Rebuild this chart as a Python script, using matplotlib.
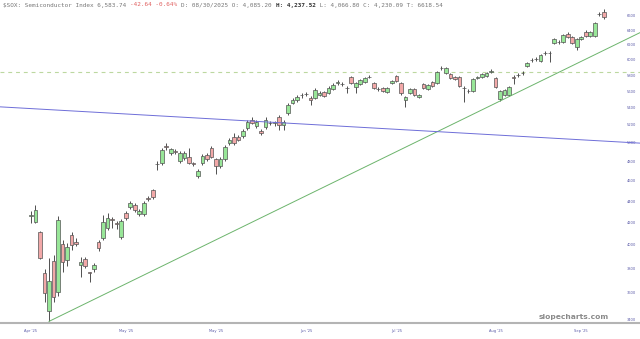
import numpy as np
import matplotlib.pyplot as plt

# daily OHLC, bar 0 = first candle on the left
opens = [4264, 4209, 4118, 3757, 3458, 3865, 3604, 4011, 3873, 4091,
         4029, 3831, 3882, 3765, 3790, 4029, 4064, 4154, 4236, 4199,
         4073, 4292, 4349, 4368, 4283, 4283, 4435, 4513, 4777, 4788,
         4968, 4893, 4914, 4809, 4840, 4851, 4788, 4654, 4788, 4872,
         4947, 4830, 4757, 4830, 5001, 5067, 5067, 5078, 5168, 5259,
         5191, 5134, 5179, 5225, 5225, 5294, 5202, 5340, 5457, 5493,
         5554, 5566, 5518, 5518, 5554, 5591, 5578, 5627, 5702, 5689,
         5640, 5777, 5652, 5689, 5714, 5777, 5702, 5627, 5640, 5591,
         5702, 5789, 5702, 5493, 5578, 5627, 5530, 5689, 5627, 5714,
         5702, 5891, 5827, 5815, 5777, 5777, 5640, 5603, 5603, 5764,
         5777, 5789, 5840, 5764, 5505, 5554, 5554, 5777, 5802, 5827,
         5917, 5995, 6008, 5982, 6087, 6087, 6222, 6235, 6235, 6346,
         6304, 6168, 6276, 6373, 6318, 6318, 6629, 6659]
highs = [4311, 4368, 4127, 3790, 3890, 3916, 4264, 4046, 4020, 4118,
         4064, 3899, 3899, 3773, 3848, 4046, 4273, 4292, 4255, 4218,
         4236, 4311, 4406, 4387, 4330, 4406, 4454, 4523, 4809, 4947,
         5001, 4947, 4936, 4914, 4914, 4947, 4798, 4725, 4883, 4893,
         4968, 4840, 4851, 4979, 5056, 5112, 5089, 5156, 5259, 5294,
         5259, 5156, 5294, 5248, 5248, 5317, 5259, 5457, 5518, 5554,
         5578, 5591, 5542, 5640, 5603, 5603, 5665, 5702, 5739, 5714,
         5665, 5789, 5714, 5752, 5777, 5802, 5714, 5652, 5652, 5652,
         5739, 5802, 5714, 5542, 5640, 5640, 5566, 5702, 5689, 5727,
         5852, 5917, 5904, 5827, 5789, 5789, 5665, 5627, 5764, 5789,
         5827, 5840, 5878, 5777, 5615, 5627, 5665, 5802, 5827, 5852,
         5969, 6021, 6035, 6074, 6114, 6114, 6290, 6262, 6346, 6373,
         6318, 6290, 6318, 6401, 6387, 6514, 6659, 6703]
lows = [4199, 4199, 3882, 3526, 3383, 3526, 3573, 3773, 3823, 3959,
        3994, 3732, 3806, 3684, 3773, 3950, 4046, 4136, 4154, 4145,
        4055, 4227, 4330, 4301, 4264, 4264, 4406, 4426, 4715, 4767,
        4925, 4872, 4883, 4788, 4819, 4777, 4757, 4633, 4767, 4809,
        4840, 4674, 4736, 4809, 4979, 4979, 5023, 5056, 5145, 5213,
        5168, 5089, 5156, 5202, 5191, 5145, 5145, 5317, 5446, 5469,
        5518, 5542, 5434, 5505, 5542, 5530, 5566, 5615, 5677, 5665,
        5578, 5689, 5578, 5677, 5702, 5764, 5627, 5603, 5591, 5578,
        5689, 5714, 5554, 5410, 5566, 5542, 5518, 5627, 5615, 5652,
        5689, 5865, 5815, 5752, 5739, 5652, 5469, 5578, 5591, 5752,
        5764, 5777, 5827, 5640, 5481, 5542, 5542, 5689, 5777, 5802,
        5904, 5969, 5982, 5969, 6061, 5969, 6208, 6208, 6222, 6290,
        6208, 6127, 6262, 6304, 6304, 6304, 6600, 6557]
closes = [4273, 4320, 3890, 3596, 3692, 3565, 4227, 3856, 3985, 4002,
          4011, 3856, 3823, 3757, 3831, 3976, 4209, 4245, 4227, 4190,
          4218, 4245, 4387, 4320, 4311, 4387, 4426, 4445, 4772, 4925,
          4957, 4936, 4904, 4893, 4893, 4788, 4777, 4705, 4861, 4830,
          4851, 4757, 4830, 4957, 5034, 5001, 5034, 5134, 5236, 5225,
          5236, 5112, 5259, 5222, 5228, 5202, 5236, 5434, 5493, 5530,
          5550, 5570, 5493, 5615, 5578, 5542, 5640, 5677, 5706, 5686,
          5636, 5702, 5702, 5739, 5764, 5780, 5640, 5624, 5603, 5640,
          5727, 5727, 5578, 5530, 5627, 5554, 5554, 5640, 5677, 5665,
          5840, 5895, 5891, 5764, 5752, 5665, 5636, 5600, 5752, 5777,
          5815, 5827, 5852, 5652, 5603, 5615, 5652, 5764, 5806, 5830,
          5956, 5998, 6004, 6061, 6091, 6083, 6276, 6239, 6332, 6304,
          6222, 6276, 6304, 6318, 6373, 6500, 6625, 6586]

y_ticks = [3400, 3600, 3800, 4000, 4200, 4400, 4600, 4800, 5000,
           5200, 5400, 5600, 5800, 6000, 6200, 6400, 6600]
x_tick_bars = [0, 21, 41, 61, 81, 103, 122]
x_tick_labels = ["Apr '25", "May '25", "May '25", "Jun '25", "Jul '25", "Aug '25", "Sep '25"]

# drawn lines (bar index, price)
support_bars = [4, 135.03]
support_vals = [3383, 6364]
channel_bars = [-6.87, 135.03]
channel_vals = [5410, 4997]
resist_level = 5840

header = [("$SOX: Semiconductor Index 6,583.74 ", '#777777', 'normal'),
          ("-42.64 -0.64% ", '#e06060', 'normal'),
          ("D: 08/30/2025 O: 4,085.20 ", '#777777', 'normal'),
          ("H: 4,237.52", '#333333', 'bold'),
          (" L: 4,066.80 C: 4,230.09 T: 6618.54", '#777777', 'normal')]

fig = plt.figure(figsize=(6.4, 3.39), dpi=100)
ax = fig.add_axes([0, 16 / 339, 1, 323 / 339])

idx = np.arange(len(opens))
o = np.array(opens, float)
c = np.array(closes, float)
up = c >= o
bottom = np.minimum(o, c)
height = np.maximum(np.abs(c - o), 2)

ax.vlines(idx, lows, highs, color='#333333', lw=0.6, zorder=2)
ax.bar(idx, height, bottom=bottom, width=0.8,
       color=np.where(up, '#98e698', '#f2a8a8'),
       edgecolor='#555555', linewidth=0.5, zorder=3)

ax.plot(support_bars, support_vals, color='#6cb46c', lw=0.7, zorder=4)
ax.plot(channel_bars, channel_vals, color='#6e6ed8', lw=0.7, zorder=4)
ax.axhline(resist_level, color='#bcd8a0', lw=0.8, ls=(0, (3.5, 3.5)), zorder=1)

ax.set_yscale('log')
ax.set_ylim(3371, 6835)
ax.set_xlim(-6.87, 135.03)
ax.yaxis.set_minor_locator(plt.NullLocator())
ax.set_yticks(y_ticks, [str(v) for v in y_ticks])
ax.yaxis.tick_right()
ax.set_xticks(x_tick_bars, x_tick_labels)
ax.tick_params(axis='y', length=0, pad=-9.5, labelsize=2.6, labelcolor='#5a5aa8')
ax.tick_params(axis='x', length=0, pad=4.6, labelsize=2.6, labelcolor='#5a5aa8')
for lab in ax.get_yticklabels():
    lab.set_horizontalalignment('left')

for s in ['top', 'left', 'right']:
    ax.spines[s].set_visible(False)
ax.spines['bottom'].set_color('#b4b4b4')
ax.spines['bottom'].set_linewidth(1.5)

# header line, monospace so each piece starts where the last one ends
cw = 3.64
pos = 0
for txt, col, wt in header:
    fig.text((3 + pos * cw) / 640, 1 - 5 / 339, txt, family='DejaVu Sans Mono',
             fontsize=4.35, color=col, fontweight=wt, va='center', ha='left')
    pos += len(txt)

fig.text(574 / 640, 1 - 317 / 339, 'slopecharts.com', fontsize=5.4,
         fontweight='bold', color='#8a8a8a', ha='center', va='center')

fig.savefig('out.png', dpi=100)
